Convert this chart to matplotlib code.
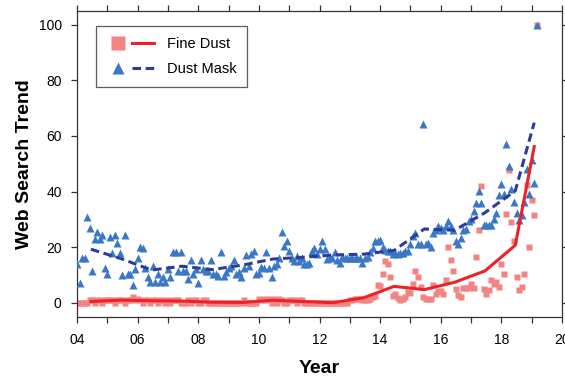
import matplotlib
matplotlib.use("Agg")
import matplotlib.pyplot as plt
import numpy as np
from matplotlib.legend_handler import HandlerTuple
from matplotlib.lines import Line2D

# monthly search index, Jan 2004 .. Mar 2019 (one row per year)
fine_dust = [
    0, 0, 0, 0, 0, 1, 1, 0, 1, 1, 0, 1,
    1, 1, 1, 0, 1, 1, 1, 0, 1, 1, 2.2, 1,
    1.4, 1, 0, 1, 1, 0, 1, 1, 0, 1, 1, 0,
    1, 0, 1, 1, 1, 0, 0, 0, 1, 0, 1, 1,
    0, 0, 1, 1, 0, 0, 0, 0, 0, 0, 0, 0,
    0, 0, 0, 0, 0, 0, 1, 0, 0, 0, 0, 0,
    1.5, 1, 1.5, 1, 1.5, 0, 1.5, 0, 1.5, 1, 0, 0,
    1, 1, 1, 0, 1, 1, 0, 0, 0, 0, 0, 0,
    0, 0, 0, 0, 0, 0, 0, 0, 0, 0, 0, 0,
    1, 1, 1.4, 1.4, 1.5, 1, 1, 1, 1.5, 2, 2.3, 6.3,
    6.1, 10.4, 15, 14, 9.4, 2.5, 3.1, 1.7, 1, 1.5, 1.9, 3.7,
    3.5, 6.9, 11.3, 9.4, 5.5, 2.2, 1.3, 1.3, 1.3, 6.5, 3, 4.3,
    4.1, 3.3, 8.2, 20.1, 15.3, 11.3, 4.9, 2.9, 2.2, 5.3, 5.3, 5.3,
    6.9, 5.3, 16.3, 26.1, 42, 4.9, 3.3, 4.5, 8.2, 6.9, 7.3, 5.5,
    14.1, 10.3, 32, 47.7, 29.2, 22.3, 9.4, 4.6, 5.8, 10.3, 42.4, 20.1,
    37, 31.5, 100,
]

dust_mask = [
    14, 7, 16, 16, 31, 27, 11.5, 23, 25.5, 23, 24.5, 12.5,
    10.5, 23.5, 18, 24.5, 21.5, 18, 10, 24.5, 10.5, 10.5, 6.5, 12,
    16, 20, 19.8, 12.6, 9.4, 7.5, 13.3, 7.5, 10.4, 7.5, 9.4, 7.5,
    12.2, 9.4, 18.3, 18.3, 11.5, 18.3, 11.5, 11.5, 8.6, 15.5, 10.4, 12,
    7.2, 15.5, 12.2, 11.5, 11.5, 15.5, 10.4, 10.4, 9.7, 18.3, 9.7, 11,
    12.6, 13.3, 15.5, 10.4, 11.2, 9.4, 12.6, 17.3, 13.3, 17.6, 18.7, 10.4,
    10.8, 13, 12.6, 18.3, 12.6, 9.4, 13.3, 14, 16.2, 25.5, 20.5, 22.3,
    18.7, 16.2, 15, 16.9, 15.1, 16, 14, 14, 14.4, 18.7, 19.8, 17.6,
    19.4, 22.3, 19.4, 15.8, 16.5, 16, 18.3, 15.5, 14.4, 16.5, 16, 16,
    16, 16, 16, 16, 16, 14.4, 16, 16.5, 18.3, 19.8, 22.3, 22.3,
    22.7, 20, 19, 18.7, 18.7, 17.6, 18, 17.6, 18, 18, 18.7, 18.7,
    21.2, 24.1, 25.2, 21, 21, 64.4, 21.2, 21.5, 20, 25.2, 26, 27.7,
    27, 26, 27.7, 29.5, 27.7, 26, 22.3, 21, 23.4, 26, 26.6, 29.5,
    30.2, 33, 36, 40.3, 36, 28, 28, 28, 28, 30, 32.4, 38.8,
    42.8, 39.2, 57.2, 49.3, 41, 36.3, 32.4, 29.9, 31.5, 36.3, 48, 39.2,
    51.2, 43.2, 100,
]

first_year = 4  # two-digit year of the first month
tick_years = list(range(4, 21, 2))
tick_labels = [f"{y:02d}" for y in tick_years]

SQUARE = "#f38484"
RED = "#ee2226"
TRIANGLE = "#3a78c6"
NAVY = "#2c3c9c"
DASH = (2.8, 1.5)


def yearly_means(months: np.ndarray, values: np.ndarray) -> tuple[np.ndarray, np.ndarray]:
    years = np.floor(months + 1e-9).astype(int)
    xs, ys = [], []
    for year in np.unique(years):
        sel = years == year
        xs.append(months[sel].mean())
        ys.append(values[sel].mean())
    return np.array(xs), np.array(ys)


plt.rcParams["font.family"] = ["Liberation Sans", "DejaVu Sans"]

fine = np.asarray(fine_dust, dtype=float)
mask = np.asarray(dust_mask, dtype=float)
months = first_year + np.arange(len(fine)) / 12.0

fig = plt.figure(figsize=(5.65, 3.78), dpi=100)
ax = fig.add_axes([0.1363, 0.1625, 0.8584, 0.8085])

ax.plot(months, fine, ls="none", marker="s", ms=4.3, color=SQUARE, mec="none", zorder=2)
ax.plot(months, mask, ls="none", marker="^", ms=6.4, color=TRIANGLE, mec="none", zorder=3)

fx, fy = yearly_means(months, fine)
mx, my = yearly_means(months, mask)
ax.plot(fx, fy, color=RED, lw=2.2, zorder=4)
ax.plot(mx, my, color=NAVY, lw=2.2, dashes=DASH, zorder=5)

ax.set_xlim(4, 20)
ax.set_ylim(-5, 105)
ax.set_xticks(tick_years)
ax.set_xticklabels(tick_labels)
ax.set_xticks(range(4, 21), minor=True)
ax.set_yticks(range(0, 101, 20))
ax.tick_params(axis="both", which="both", direction="out", length=4, width=0.9,
               top=True, right=True, labelsize=10, colors="#333333", labelcolor="black")
ax.tick_params(axis="y", pad=7)
ax.tick_params(axis="x", pad=8)
for spine in ax.spines.values():
    spine.set_color("#333333")
    spine.set_linewidth(0.9)

ax.set_xlabel("Year", fontsize=14, fontweight="bold", labelpad=9)
ax.set_ylabel("Web Search Trend", fontsize=14, fontweight="bold", labelpad=4)

fine_handle = (Line2D([], [], ls="none", marker="s", ms=10, color=SQUARE, mec="none"),
               Line2D([], [], color=RED, lw=2.2))
mask_handle = (Line2D([], [], ls="none", marker="^", ms=8, color=TRIANGLE, mec="none"),
               Line2D([], [], color=NAVY, lw=2.2, dashes=DASH))
leg = ax.legend([fine_handle, mask_handle], ["Fine Dust", "Dust Mask"],
                handler_map={tuple: HandlerTuple(ndivide=None, pad=0.25)},
                loc="upper left", bbox_to_anchor=(0.039, 0.95), borderaxespad=0,
                handlelength=3.2, frameon=True, fancybox=False, borderpad=0.75,
                labelspacing=0.75, handletextpad=0.9, prop={"size": 10.5})
leg.get_frame().set_edgecolor("#333333")
leg.get_frame().set_linewidth(0.9)

fig.savefig("out.png", dpi=100)
